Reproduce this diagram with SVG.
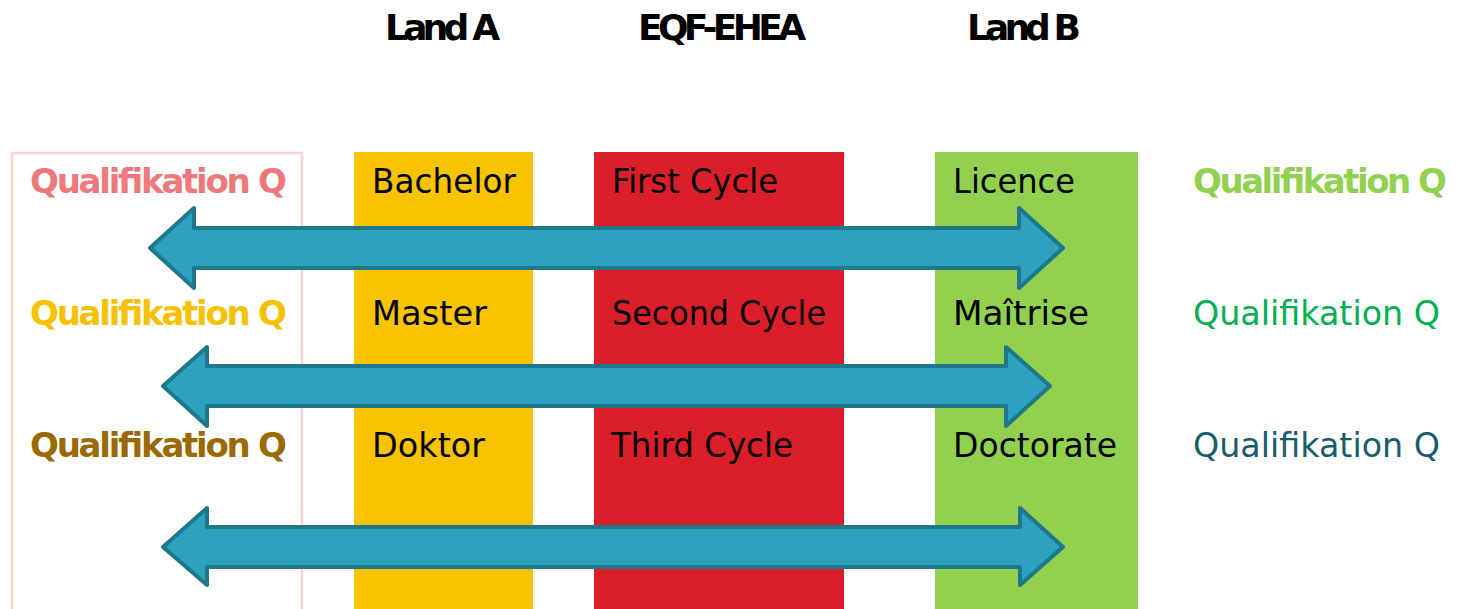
<svg xmlns="http://www.w3.org/2000/svg" width="1457" height="609" viewBox="0 0 1457 609">
  <style>
    .hdr { font-family: "DejaVu Sans", "Liberation Sans", sans-serif; font-weight: bold; font-size: 36px; fill: #000; }
    .lbl { font-family: "DejaVu Sans", "Liberation Sans", sans-serif; font-size: 34px; fill: #000; }
    .q { font-family: "DejaVu Sans", "Liberation Sans", sans-serif; font-size: 34px; }
    .qb { font-weight: bold; }
    .arrow { fill: #2DA2BF; stroke: #1F778C; stroke-width: 4; stroke-linejoin: round; }
  </style>
  <rect width="1457" height="609" fill="#ffffff"/>

  <!-- column headers -->
  <g id="headers">
    <text class="hdr" x="385" y="40" textLength="115" lengthAdjust="spacing">Land A</text>
    <text class="hdr" x="638" y="40" textLength="168" lengthAdjust="spacing">EQF-EHEA</text>
    <text class="hdr" x="967" y="40" textLength="114" lengthAdjust="spacing">Land B</text>
  </g>

  <!-- left qualification frame -->
  <g id="frame-left">
    <rect x="12" y="153" width="290" height="470" fill="none" stroke="#F9D2D4" stroke-width="2.5"/>
    <text class="q qb" x="30" y="193" fill="#EE787C" textLength="257" lengthAdjust="spacing">Qualifikation Q</text>
    <text class="q qb" x="30" y="325" fill="#F8C100" textLength="257" lengthAdjust="spacing">Qualifikation Q</text>
    <text class="q qb" x="30" y="457" fill="#9A6A00" textLength="257" lengthAdjust="spacing">Qualifikation Q</text>
  </g>

  <!-- Land A column -->
  <g id="col-land-a">
    <rect x="354" y="152" width="179" height="457" fill="#F8C400"/>
    <text class="lbl" x="372" y="193" textLength="144" lengthAdjust="spacingAndGlyphs">Bachelor</text>
    <text class="lbl" x="372" y="325" textLength="115" lengthAdjust="spacingAndGlyphs">Master</text>
    <text class="lbl" x="372" y="457" textLength="113" lengthAdjust="spacingAndGlyphs">Doktor</text>
  </g>

  <!-- EQF-EHEA column -->
  <g id="col-eqf">
    <rect x="594" y="152" width="250" height="457" fill="#DA1F2B"/>
    <text class="lbl" x="612" y="193" textLength="166" lengthAdjust="spacingAndGlyphs">First Cycle</text>
    <text class="lbl" x="612" y="325" textLength="214" lengthAdjust="spacingAndGlyphs">Second Cycle</text>
    <text class="lbl" x="611" y="457" textLength="182" lengthAdjust="spacingAndGlyphs">Third Cycle</text>
  </g>

  <!-- Land B column -->
  <g id="col-land-b">
    <rect x="935" y="152" width="203" height="457" fill="#92D050"/>
    <text class="lbl" x="953" y="193" textLength="122" lengthAdjust="spacingAndGlyphs">Licence</text>
    <text class="lbl" x="953" y="325" textLength="136" lengthAdjust="spacingAndGlyphs">Maîtrise</text>
    <text class="lbl" x="953" y="457" textLength="164" lengthAdjust="spacingAndGlyphs">Doctorate</text>
  </g>

  <!-- right qualification labels -->
  <g id="labels-right">
    <text class="q qb" x="1193" y="193" fill="#92D050" textLength="254" lengthAdjust="spacing">Qualifikation Q</text>
    <text class="q" x="1193" y="325" fill="#00B050" textLength="247" lengthAdjust="spacingAndGlyphs">Qualifikation Q</text>
    <text class="q" x="1193" y="457" fill="#175E6C" textLength="247" lengthAdjust="spacingAndGlyphs">Qualifikation Q</text>
  </g>

  <!-- double-headed connectors -->
  <g id="connectors">
    <path class="arrow" d="M150,248 L194,208 L194,228 L1019,228 L1019,208 L1063,248 L1019,288 L1019,268 L194,268 L194,288 Z"/>
    <path class="arrow" d="M163,386 L207,347 L207,366 L1006,366 L1006,347 L1050,386 L1006,426 L1006,406 L207,406 L207,426 Z"/>
    <path class="arrow" d="M163,547 L207,508 L207,527 L1020,527 L1020,508 L1063,547 L1020,585 L1020,567 L207,567 L207,585 Z"/>
  </g>
</svg>
